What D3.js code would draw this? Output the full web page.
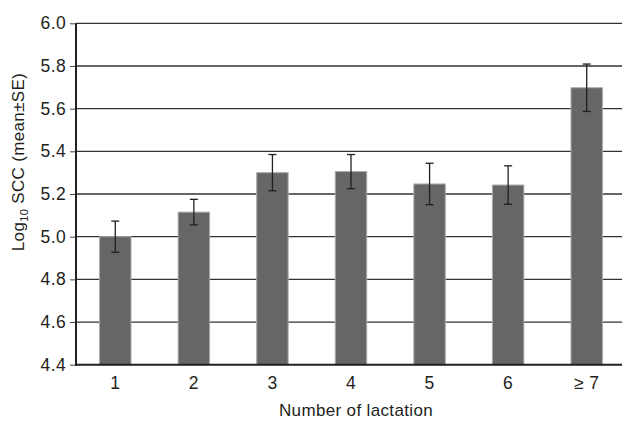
<!DOCTYPE html>
<html>
<head>
<meta charset="utf-8">
<script src="https://cdn.jsdelivr.net/npm/d3@7"></script>
<style>
  html, body { margin: 0; padding: 0; background: #fff; }
  svg { display: block; }
  text { font-family: "Liberation Sans", Arial, sans-serif; fill: #231f20; letter-spacing: 0.35px; }
</style>
</head>
<body>
<svg id="chart" width="622" height="428"></svg>
<script>
const categories = ["1", "2", "3", "4", "5", "6", "\u2265 7"];
const means = [5.00, 5.115, 5.30, 5.305, 5.247, 5.242, 5.698];
const se = [0.073, 0.060, 0.085, 0.080, 0.097, 0.090, 0.111];
const yTicks = [4.4, 4.6, 4.8, 5.0, 5.2, 5.4, 5.6, 5.8, 6.0];

const svg = d3.select("#chart");
const mLeft = 76, mRight = 626, mTop = 23.3, mBottom = 364.7;

const x = d3.scaleBand().domain(categories).range([mLeft, mRight]).paddingInner(0.6).paddingOuter(0.3);
const y = d3.scaleLinear().domain([4.4, 6.0]).range([mBottom, mTop]);

// gridlines
svg.append("g").selectAll("line").data(yTicks.slice(1)).join("line")
  .attr("x1", mLeft).attr("x2", 622)
  .attr("y1", d => y(d)).attr("y2", d => y(d))
  .attr("stroke", "#333").attr("stroke-width", 1.3);

// y axis
const yAxis = d3.axisLeft(y).tickValues(yTicks).tickFormat(d3.format(".1f")).tickSize(6).tickPadding(4);
const gy = svg.append("g").attr("transform", `translate(${mLeft},0)`).call(yAxis);
gy.select(".domain").remove();
gy.selectAll(".tick line").attr("stroke", "#444").attr("stroke-width", 1);
gy.selectAll(".tick text").attr("font-size", 17.5).attr("font-family", "Liberation Sans, Arial, sans-serif").attr("fill", "#231f20");

// bars
svg.append("g").selectAll("rect").data(categories).join("rect")
  .attr("x", d => x(d))
  .attr("width", x.bandwidth())
  .attr("y", (d, i) => y(means[i]))
  .attr("height", (d, i) => y(4.4) - y(means[i]))
  .attr("fill", "#666666")
  .attr("stroke", "#aaaaaa").attr("stroke-width", 1);

// error bars
const eb = svg.append("g").attr("stroke", "#231f20").attr("stroke-width", 1.3);
categories.forEach((c, i) => {
  const cx = x(c) + x.bandwidth() / 2;
  eb.append("line").attr("x1", cx).attr("x2", cx).attr("y1", y(means[i] + se[i])).attr("y2", y(means[i] - se[i]));
  eb.append("line").attr("x1", cx - 4).attr("x2", cx + 4).attr("y1", y(means[i] + se[i])).attr("y2", y(means[i] + se[i]));
  eb.append("line").attr("x1", cx - 4).attr("x2", cx + 4).attr("y1", y(means[i] - se[i])).attr("y2", y(means[i] - se[i]));
});

// axis lines
svg.append("line").attr("x1", mLeft).attr("x2", mLeft).attr("y1", mTop).attr("y2", mBottom + 1)
  .attr("stroke", "#231f20").attr("stroke-width", 2);
svg.append("line").attr("x1", mLeft - 1).attr("x2", 622).attr("y1", mBottom).attr("y2", mBottom)
  .attr("stroke", "#231f20").attr("stroke-width", 2);

// x axis labels
const xAxis = d3.axisBottom(x).tickSize(0).tickPadding(12);
const gx = svg.append("g").attr("transform", `translate(0,${mBottom})`).call(xAxis);
gx.select(".domain").remove();
gx.selectAll(".tick text").attr("font-size", 17.5).attr("font-family", "Liberation Sans, Arial, sans-serif").attr("fill", "#231f20");

// axis titles
svg.append("text").attr("x", 356).attr("y", 416).attr("text-anchor", "middle").attr("font-size", 17)
  .text("Number of lactation");

const yl = svg.append("text").attr("transform", "translate(24,162) rotate(-90)").attr("text-anchor", "middle").attr("font-size", 17);
yl.append("tspan").text("Log");
yl.append("tspan").attr("font-size", 11).attr("dy", 4).text("10");
yl.append("tspan").attr("dy", -4).text(" SCC (mean\u00b1SE)");
</script>
</body>
</html>
